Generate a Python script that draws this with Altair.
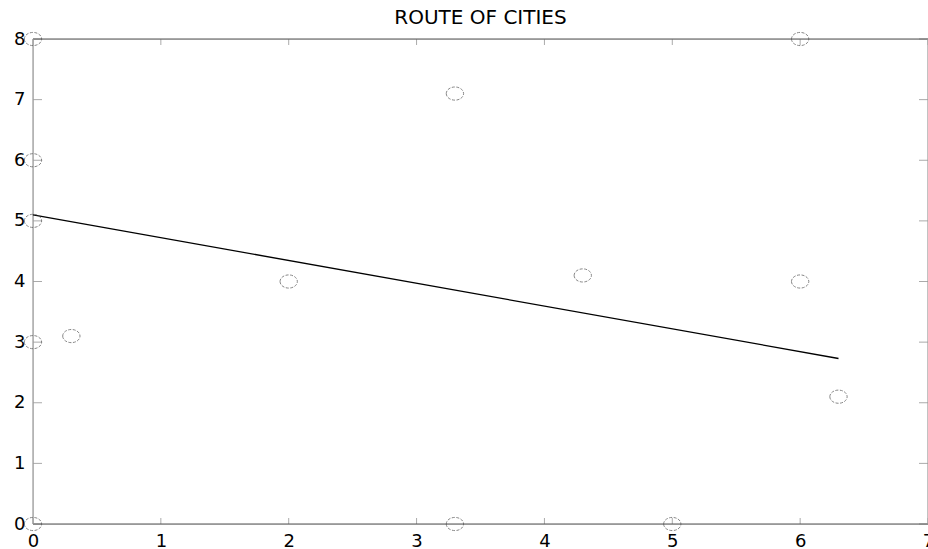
import altair as alt
import pandas as pd

city_x = [0, 0, 0, 0, 0, 0.3, 2, 3.3, 3.3, 4.3, 5, 6, 6, 6.3]
city_y = [8, 6, 5, 3, 0, 3.1, 4, 7.1, 0, 4.1, 0, 8, 4, 2.1]
route_x = [0, 6.3]
route_y = [5.1, 2.73]
x_ticks = [0, 1, 2, 3, 4, 5, 6, 7]
y_ticks = [0, 1, 2, 3, 4, 5, 6, 7, 8]

W, H = 895, 485
xs = alt.Scale(domain=[0, 7], nice=False, zero=False)
ys = alt.Scale(domain=[0, 8], nice=False, zero=False)

cities = pd.DataFrame({"x": city_x, "y": city_y})
route = pd.DataFrame({"x": route_x, "y": route_y})
xt = pd.DataFrame({"v": x_ticks})
yt = pd.DataFrame({"v": y_ticks})

ellipse = "M-1,0A1,0.76,0,1,0,1,0A1,0.76,0,1,0,-1,0Z"
FONT = "DejaVu Sans"

pts = alt.Chart(cities).mark_point(
    shape=ellipse, size=300, filled=False, stroke="#555", strokeWidth=1,
    strokeDash=[3, 1.5], clip=False
).encode(
    x=alt.X("x:Q", scale=xs, axis=alt.Axis(
        values=x_ticks, format="d", ticks=False, domain=False, grid=False, title=None,
        labelFontSize=18, labelFont=FONT, labelColor="#000",
        labelPadding=8, labelFlush=False, labelOverlap=False)),
    y=alt.Y("y:Q", scale=ys, axis=alt.Axis(
        values=y_ticks, format="d", ticks=False, domain=False, grid=False, title=None,
        labelFontSize=18, labelFont=FONT, labelColor="#000",
        labelPadding=8, labelFlush=False, labelOverlap=False, labelBaseline="middle")),
)

line = alt.Chart(route).mark_line(color="#000", strokeWidth=1.3).encode(
    x=alt.X("x:Q", scale=xs), y=alt.Y("y:Q", scale=ys)
)

tick_col = "#aaa"
left_t = alt.Chart(yt).mark_rule(color=tick_col).encode(
    y=alt.Y("v:Q", scale=ys), x=alt.value(0), x2=alt.value(9))
right_t = alt.Chart(yt).mark_rule(color=tick_col).encode(
    y=alt.Y("v:Q", scale=ys), x=alt.value(W - 9), x2=alt.value(W))
bot_t = alt.Chart(xt).mark_rule(color=tick_col).encode(
    x=alt.X("v:Q", scale=xs), y=alt.value(H - 6), y2=alt.value(H))
top_t = alt.Chart(xt).mark_rule(color=tick_col).encode(
    x=alt.X("v:Q", scale=xs), y=alt.value(0), y2=alt.value(6))

frame_tb = alt.Chart(pd.DataFrame({"v": [0, 8]})).mark_rule(color="#555", strokeWidth=1.2).encode(
    y=alt.Y("v:Q", scale=ys), x=alt.value(0), x2=alt.value(W))
frame_lr = alt.Chart(pd.DataFrame({"v": [0, 7]})).mark_rule(color="#999", strokeWidth=1.2).encode(
    x=alt.X("v:Q", scale=xs), y=alt.value(0), y2=alt.value(H))

chart = alt.layer(
    left_t, right_t, bot_t, top_t, frame_tb, frame_lr, line, pts
).properties(
    width=W, height=H,
    title=alt.TitleParams("ROUTE OF CITIES", fontSize=20, font=FONT,
                          fontWeight="normal", color="#000", anchor="middle", offset=2),
    padding={"left": 33, "top": 39, "right": 0, "bottom": 25},
    autosize=alt.AutoSizeParams(type="none"),
).configure_view(stroke=None).configure(background="white")

chart.save("out.html", embed_options={"renderer": "svg", "actions": False})
